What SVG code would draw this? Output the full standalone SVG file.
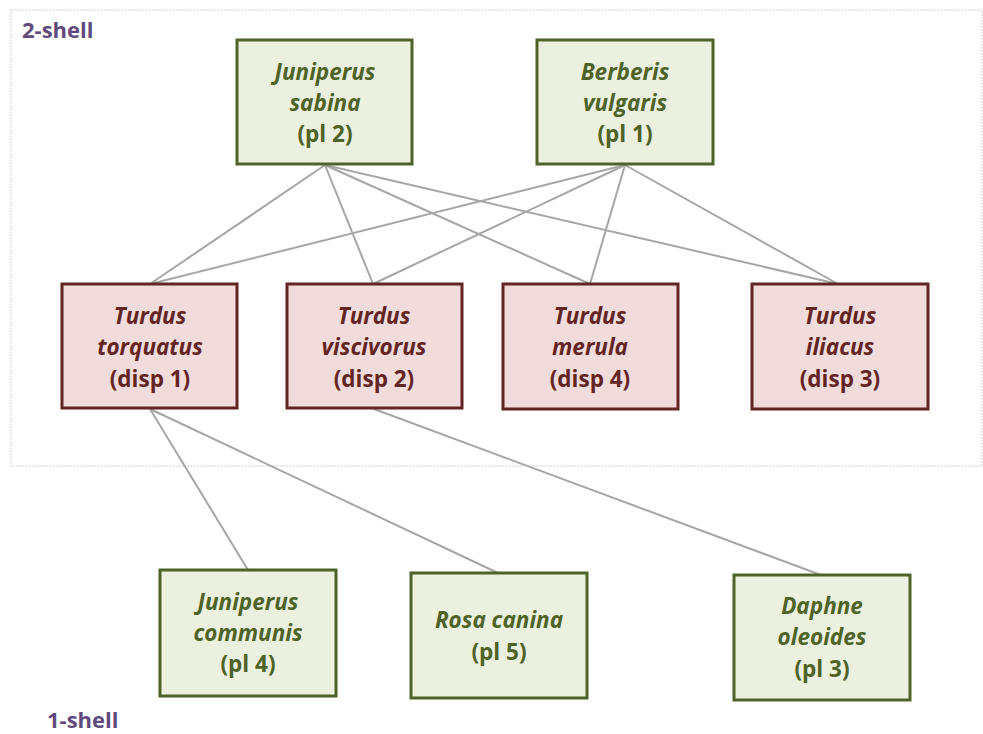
<svg xmlns="http://www.w3.org/2000/svg" width="983" height="734" viewBox="0 0 983 734">
<style>
text{font-family:"Open Sans",Lato,"Liberation Sans",sans-serif;font-weight:bold;text-anchor:middle;font-size:22.5px}
.g rect{fill:#ebf1de;stroke:#4f6228;stroke-width:3}
.g text{fill:#4f6228}
.r rect{fill:#f2dcdb;stroke:#632523;stroke-width:3}
.r text{fill:#632523}
.i{font-style:italic}
.shell{fill:#604a7b;text-anchor:start;font-size:22px}
#edges line{stroke:#a6a6a6;stroke-width:2}
</style>
<rect x="11" y="10" width="971" height="456" fill="none" stroke="#c0c0d0" stroke-width="1" stroke-dasharray="1.5,1.5"/>
<text class="shell" x="22" y="38">2-shell</text>
<text class="shell" x="47" y="728">1-shell</text>
<g id="edges">
<line x1="325" y1="165" x2="150" y2="284"/>
<line x1="325" y1="165" x2="373" y2="284"/>
<line x1="325" y1="165" x2="590" y2="284"/>
<line x1="325" y1="165" x2="838" y2="284"/>
<line x1="625" y1="165" x2="150" y2="284"/>
<line x1="625" y1="165" x2="373" y2="284"/>
<line x1="625" y1="165" x2="590" y2="284"/>
<line x1="625" y1="165" x2="838" y2="284"/>
<line x1="150" y1="409" x2="248" y2="570"/>
<line x1="150" y1="409" x2="498" y2="573"/>
<line x1="374" y1="409" x2="821" y2="575"/>
</g>
<g id="juniperus-sabina" class="g"><rect x="237" y="40" width="175" height="124"/><text x="325" y="80" class="i">Juniperus</text><text x="325" y="111" class="i">sabina</text><text x="325" y="142">(pl 2)</text></g>
<g id="berberis-vulgaris" class="g"><rect x="537" y="40" width="176" height="124"/><text x="625" y="80" class="i">Berberis</text><text x="625" y="111" class="i">vulgaris</text><text x="625" y="142">(pl 1)</text></g>
<g id="turdus-torquatus" class="r"><rect x="62" y="284" width="175" height="124"/><text x="150" y="324" class="i">Turdus</text><text x="150" y="355" class="i">torquatus</text><text x="150" y="387">(disp 1)</text></g>
<g id="turdus-viscivorus" class="r"><rect x="287" y="284" width="175" height="124"/><text x="374" y="324" class="i">Turdus</text><text x="374" y="355" class="i">viscivorus</text><text x="374" y="387">(disp 2)</text></g>
<g id="turdus-merula" class="r"><rect x="503" y="284" width="175" height="125"/><text x="590" y="324" class="i">Turdus</text><text x="590" y="355" class="i">merula</text><text x="590" y="387">(disp 4)</text></g>
<g id="turdus-iliacus" class="r"><rect x="752" y="284" width="176" height="125"/><text x="840" y="324" class="i">Turdus</text><text x="840" y="355" class="i">iliacus</text><text x="840" y="387">(disp 3)</text></g>
<g id="juniperus-communis" class="g"><rect x="160" y="570" width="176" height="126"/><text x="248" y="610" class="i">Juniperus</text><text x="248" y="641" class="i">communis</text><text x="248" y="672">(pl 4)</text></g>
<g id="rosa-canina" class="g"><rect x="411" y="573" width="176" height="125"/><text x="499" y="628" class="i">Rosa canina</text><text x="499" y="660">(pl 5)</text></g>
<g id="daphne-oleoides" class="g"><rect x="734" y="575" width="176" height="125"/><text x="822" y="614" class="i">Daphne</text><text x="822" y="645" class="i">oleoides</text><text x="822" y="677">(pl 3)</text></g>
</svg>
